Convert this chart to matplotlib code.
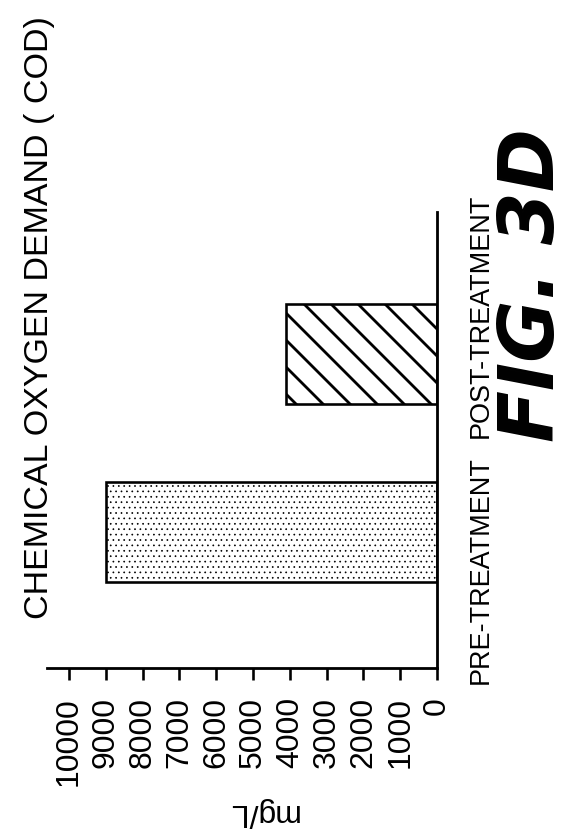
import matplotlib
matplotlib.use("Agg")
import matplotlib.pyplot as plt

categories = ["PRE-TREATMENT", "POST-TREATMENT"]
values = [9000, 4100]
hatches = [".....", "\\\\"]
tick_values = [0, 1000, 2000, 3000, 4000, 5000, 6000, 7000, 8000, 9000, 10000]
tick_labels = [str(v) for v in tick_values]
title = "CHEMICAL OXYGEN DEMAND ( COD)"
unit_label = "mg/L"
fig_label = "FIG. 3D"

W, H, DPI = 567, 834, 162
PT = 72.0 / DPI  # points per pixel

plt.rcParams['font.family'] = ['Liberation Sans', 'DejaVu Sans']
plt.rcParams['hatch.color'] = 'black'

fig = plt.figure(figsize=(W / DPI, H / DPI), dpi=DPI)
fig.patch.set_facecolor('white')

left_px, right_px, top_px, bottom_px = 47, 437, 212, 668
ax = fig.add_axes([left_px / W, 1 - bottom_px / H,
                   (right_px - left_px) / W, (bottom_px - top_px) / H])

ypos = list(range(len(categories)))
hatch_lw = [0.7 * PT, 2.8 * PT]
for y, v, h, hl in zip(ypos, values, hatches, hatch_lw):
    plt.rcParams['hatch.linewidth'] = hl
    bars = ax.barh(y, v, height=0.56, color='white', edgecolor='black',
                   linewidth=2.6 * PT, hatch=h, zorder=2)
    for b in bars:
        if hasattr(b, 'set_hatch_linewidth'):
            b.set_hatch_linewidth(hl)

ax.set_xlim(10600, 0)
ax.set_ylim(-0.759, 1.795)

for s in ['top', 'left']:
    ax.spines[s].set_visible(False)
for s in ['right', 'bottom']:
    ax.spines[s].set_linewidth(2.8 * PT)
    ax.spines[s].set_zorder(3)

ax.set_xticks(tick_values)
ax.set_xticklabels(tick_labels, rotation=90, fontsize=32 * PT,
                   ha='center', va='top')
ax.tick_params(axis='x', direction='out', length=12 * PT, width=2.6 * PT,
               pad=17 * PT)
ax.set_yticks([])

# category labels (rotated, right of baseline)
cat_centers_px = [(481, 570), (481, 316)]
for lab, (cx, cy) in zip(categories, cat_centers_px):
    fig.text(cx / W, 1 - cy / H, lab, rotation=90, ha='center', va='center',
             fontsize=27 * PT)

fig.text(40 / W, 1 - 318 / H, title, rotation=90, ha='center', va='center',
         fontsize=34 * PT)
fig.text(262 / W, 1 - 812 / H, unit_label, rotation=180, ha='center',
         va='center', fontsize=32 * PT)
fig.text(533 / W, 1 - 285 / H, fig_label, rotation=90, ha='center',
         va='center', fontsize=76 * PT, fontweight='bold', fontstyle='italic',
         family=['DejaVu Sans'])

fig.savefig('out.png', dpi=DPI, facecolor='white')
